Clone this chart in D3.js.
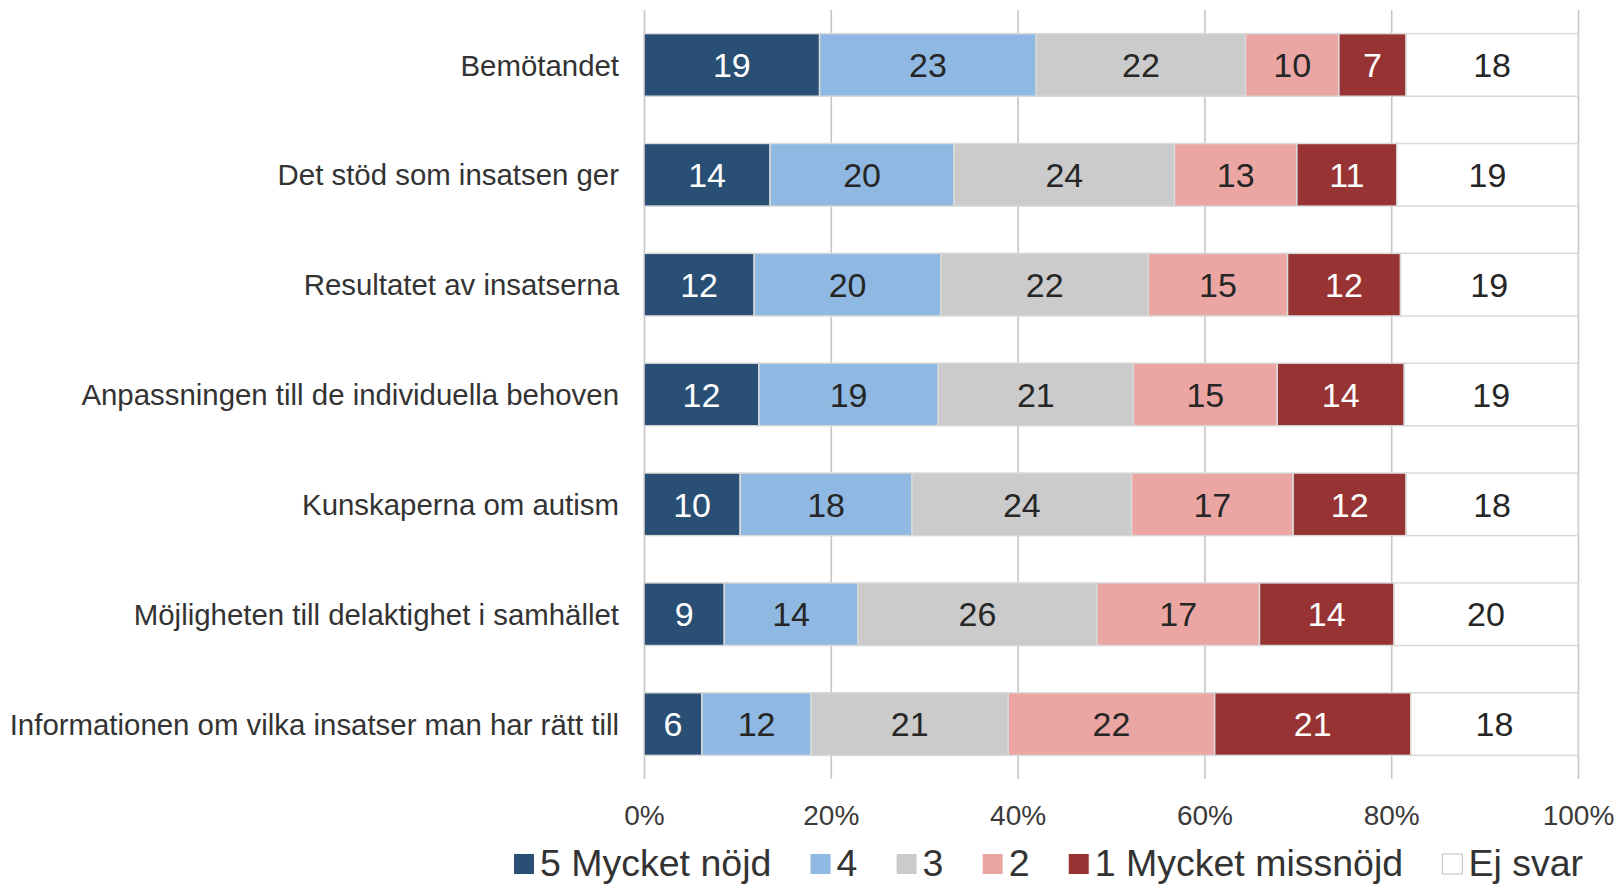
<!DOCTYPE html>
<html>
<head>
<meta charset="utf-8">
<script src="https://cdn.jsdelivr.net/npm/d3@7"></script>
<style>
  body { margin: 0; background: #fff; }
  svg { display: block; font-family: "Liberation Sans", Arial, sans-serif; }
</style>
</head>
<body>
<svg id="chart"></svg>
<script>
// Mått
const width = 1617;
const height = 885;

// Kategorier (uppifrån och ner)
const categories = [
  "Bemötandet",
  "Det stöd som insatsen ger",
  "Resultatet av insatserna",
  "Anpassningen till de individuella behoven",
  "Kunskaperna om autism",
  "Möjligheten till delaktighet i samhället",
  "Informationen om vilka insatser man har rätt till"
];

// Serier
const seriesNames = ["5 Mycket nöjd", "4", "3", "2", "1 Mycket missnöjd", "Ej svar"];
const seriesColors = ["#294f75", "#8fb9e2", "#cbcbcb", "#eba6a4", "#983334", "#ffffff"];
const labelColors = ["#ffffff", "#262626", "#262626", "#262626", "#ffffff", "#262626"];

// Andelar i procent per serie
const nojd5 = [18.8, 13.5, 11.8, 12.3, 10.3, 8.6, 6.2];
const betyg4 = [23.2, 19.7, 20.0, 19.2, 18.4, 14.3, 11.7];
const betyg3 = [22.4, 23.6, 22.2, 20.9, 23.5, 25.6, 21.1];
const betyg2 = [10.0, 13.1, 14.9, 15.4, 17.3, 17.4, 22.1];
const missnojd1 = [7.2, 10.7, 12.1, 13.6, 12.1, 14.4, 21.0];
const ejSvar = [18.4, 19.4, 19.0, 18.6, 18.4, 19.7, 17.9];

const xTicks = [0, 20, 40, 60, 80, 100];

// Bygg tabell för d3.stack
const seriesValues = [nojd5, betyg4, betyg3, betyg2, missnojd1, ejSvar];
const table = categories.map((c, i) => {
  const row = { category: c };
  seriesNames.forEach((s, j) => row[s] = seriesValues[j][i]);
  return row;
});

const stacked = d3.stack().keys(seriesNames)(table);

// Skalor
const plotTop = 10, plotBottom = 779;
const x = d3.scaleLinear().domain([0, 100]).range([644, 1578]);
const y = d3.scaleBand()
  .domain(categories)
  .range([plotTop, plotBottom])
  .paddingInner(0.43)
  .paddingOuter(0.215);

const color = d3.scaleOrdinal().domain(seriesNames).range(seriesColors);
const textColor = d3.scaleOrdinal().domain(seriesNames).range(labelColors);

const svg = d3.select("#chart")
  .attr("width", width)
  .attr("height", height);

// Stödlinjer + x-axel
const xAxis = svg.append("g")
  .attr("transform", `translate(0,${plotBottom})`)
  .call(d3.axisBottom(x)
    .tickValues(xTicks)
    .tickSize(-(plotBottom - plotTop))
    .tickPadding(26)
    .tickFormat(d => d + "%"));

xAxis.select(".domain").remove();
xAxis.selectAll(".tick line")
  .attr("stroke", "#c6c6c6")
  .attr("stroke-width", 1.6);
xAxis.selectAll(".tick text")
  .attr("fill", "#3a3a3a")
  .style("font-size", "28px");

// Staplar
const layer = svg.append("g")
  .selectAll("g")
  .data(stacked)
  .enter().append("g")
  .attr("fill", d => color(d.key));

layer.selectAll("rect")
  .data(d => d.map(v => ({ key: d.key, v: v })))
  .enter().append("rect")
  .attr("x", d => x(d.v[0]))
  .attr("y", d => y(d.v.data.category))
  .attr("width", d => x(d.v[1]) - x(d.v[0]))
  .attr("height", y.bandwidth())
  .attr("stroke", "#d9d9d9")
  .attr("stroke-width", 1.5);

// Värdeetiketter
layer.selectAll("text")
  .data(d => d.map(v => ({ key: d.key, v: v })))
  .enter().append("text")
  .attr("x", d => (x(d.v[0]) + x(d.v[1])) / 2)
  .attr("y", d => y(d.v.data.category) + y.bandwidth() / 2)
  .attr("dy", "0.36em")
  .attr("text-anchor", "middle")
  .attr("fill", d => textColor(d.key))
  .style("font-size", "34px")
  .text(d => Math.round(d.v[1] - d.v[0]));

// Kategorietiketter
svg.append("g")
  .selectAll("text")
  .data(categories)
  .enter().append("text")
  .attr("x", 619)
  .attr("y", d => y(d) + y.bandwidth() / 2)
  .attr("dy", "0.36em")
  .attr("text-anchor", "end")
  .attr("fill", "#333333")
  .style("font-size", "29.4px")
  .text(d => d);

// Förklaring
const legend = svg.append("g").attr("transform", "translate(514,863)");
let lx = 0;
seriesNames.forEach((s, i) => {
  const item = legend.append("g").attr("transform", `translate(${lx},0)`);
  item.append("rect")
    .attr("x", 0)
    .attr("y", -9)
    .attr("width", 20)
    .attr("height", 20)
    .attr("fill", seriesColors[i])
    .attr("stroke", i === 5 ? "#bfbfbf" : "none")
    .attr("stroke-width", 1);
  const t = item.append("text")
    .attr("x", 26)
    .attr("y", 0)
    .attr("dy", "0.35em")
    .attr("fill", "#333333")
    .style("font-size", "37.5px")
    .text(s);
  lx += 26 + t.node().getComputedTextLength() + 39.2;
});
</script>
</body>
</html>
